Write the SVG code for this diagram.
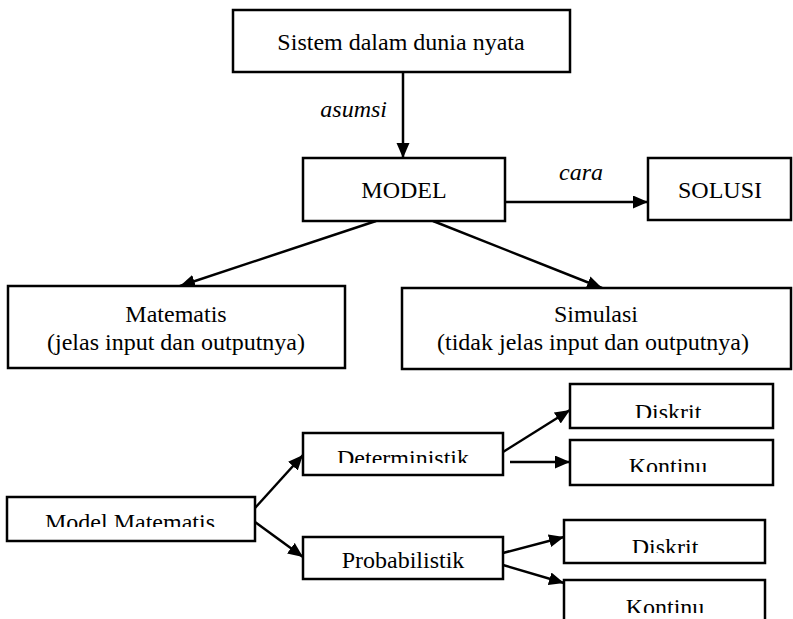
<svg xmlns="http://www.w3.org/2000/svg" width="793" height="619" viewBox="0 0 793 619">
<style>
.box{fill:#fff;stroke:#000;stroke-width:2.5}
.t{font-family:'Liberation Serif','Times New Roman',Times,'DejaVu Serif',serif;font-size:24px;fill:#000;text-anchor:middle}
.i{font-style:italic}
.c line{stroke:#000;stroke-width:2.5;marker-end:url(#ah)}
</style>
<defs>
<marker id="ah" markerUnits="userSpaceOnUse" markerWidth="16" markerHeight="14" refX="15" refY="6.5" orient="auto">
<path d="M0,0 L15,6.5 L0,13 Z" fill="#000"/>
</marker>
<clipPath id="cMM"><rect x="0" y="490" width="260" height="37"/></clipPath>
<clipPath id="cDet"><rect x="300" y="430" width="205" height="33"/></clipPath>
<clipPath id="cD1"><rect x="568" y="380" width="210" height="38"/></clipPath>
<clipPath id="cK1"><rect x="568" y="438" width="210" height="34"/></clipPath>
<clipPath id="cD2"><rect x="560" y="518" width="210" height="35"/></clipPath>
<clipPath id="cK2"><rect x="560" y="578" width="210" height="35"/></clipPath>
</defs>

<g class="c" id="connectors">
<line x1="403" y1="72" x2="403" y2="158"/>
<line x1="505" y1="202" x2="648" y2="202"/>
<line x1="376" y1="221" x2="180" y2="286"/>
<line x1="433" y1="221" x2="602" y2="288"/>
<line x1="255" y1="508" x2="303" y2="455"/>
<line x1="255" y1="522" x2="303" y2="557"/>
<line x1="503" y1="452" x2="570" y2="410"/>
<line x1="510" y1="462" x2="570" y2="462"/>
<line x1="503" y1="553" x2="564" y2="537"/>
<line x1="503" y1="565" x2="564" y2="583"/>
</g>

<text class="t i" font-family="Liberation Serif, serif" x="387" y="117" style="text-anchor:end">asumsi</text>
<text class="t i" font-family="Liberation Serif, serif" x="581" y="180">cara</text>

<g id="sistem">
<rect class="box" x="233" y="10" width="337" height="62"/>
<text class="t" font-family="Liberation Serif, serif" x="401" y="50">Sistem dalam dunia nyata</text>
</g>
<g id="model">
<rect class="box" x="303" y="158" width="202" height="63"/>
<text class="t" font-family="Liberation Serif, serif" x="404" y="198">MODEL</text>
</g>
<g id="solusi">
<rect class="box" x="648" y="158" width="143" height="62"/>
<text class="t" font-family="Liberation Serif, serif" x="720" y="198">SOLUSI</text>
</g>
<g id="matematis">
<rect class="box" x="8" y="286" width="337" height="82"/>
<text class="t" font-family="Liberation Serif, serif" x="176" y="322">Matematis</text>
<text class="t" font-family="Liberation Serif, serif" x="176" y="350">(jelas input dan outputnya)</text>
</g>
<g id="simulasi">
<rect class="box" x="402" y="288" width="389" height="81"/>
<text class="t" font-family="Liberation Serif, serif" x="596" y="322">Simulasi</text>
<text class="t" font-family="Liberation Serif, serif" x="593" y="350">(tidak jelas input dan outputnya)</text>
</g>
<g id="modelmatematis">
<rect class="box" x="7" y="497" width="248" height="44"/>
<text class="t" font-family="Liberation Serif, serif" x="130" y="530" clip-path="url(#cMM)">Model Matematis</text>
</g>
<g id="deterministik">
<rect class="box" x="303" y="433" width="200" height="42"/>
<text class="t" font-family="Liberation Serif, serif" x="403" y="466" clip-path="url(#cDet)">Deterministik</text>
</g>
<g id="probabilistik">
<rect class="box" x="303" y="537" width="200" height="42"/>
<text class="t" font-family="Liberation Serif, serif" x="403" y="568">Probabilistik</text>
</g>
<g id="diskrit1">
<rect class="box" x="570" y="384" width="203" height="44"/>
<text class="t" font-family="Liberation Serif, serif" x="668" y="420" clip-path="url(#cD1)">Diskrit</text>
</g>
<g id="kontinu1">
<rect class="box" x="570" y="440" width="203" height="45"/>
<text class="t" font-family="Liberation Serif, serif" x="668" y="474" clip-path="url(#cK1)">Kontinu</text>
</g>
<g id="diskrit2">
<rect class="box" x="564" y="520" width="201" height="43"/>
<text class="t" font-family="Liberation Serif, serif" x="665" y="555" clip-path="url(#cD2)">Diskrit</text>
</g>
<g id="kontinu2">
<rect class="box" x="564" y="580" width="201" height="45"/>
<text class="t" font-family="Liberation Serif, serif" x="665" y="615" clip-path="url(#cK2)">Kontinu</text>
</g>
</svg>
